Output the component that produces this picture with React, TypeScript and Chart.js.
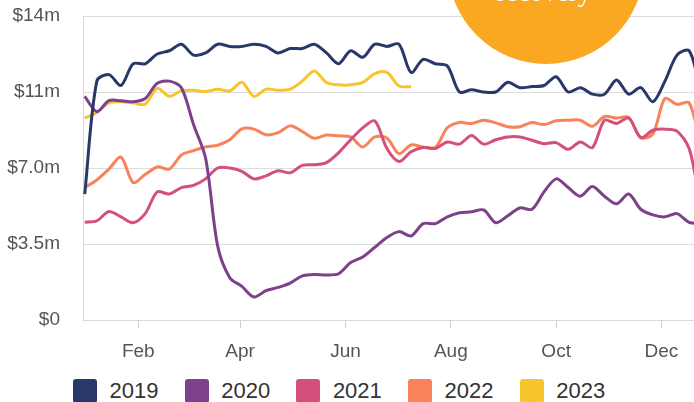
import React, { useEffect, useRef } from "react";
import { Chart, registerables } from "chart.js";

Chart.register(...registerables);

// ---- Data (weekly points, $ millions) ----
const SERIES_NAMES = ["2019", "2020", "2021", "2022", "2023"];
const SERIES_COLORS = ["#29386B", "#7C418A", "#D4507C", "#F9825A", "#F8C42C"];
const DAYS_PER_WEEK = 7;

const V2019 = [
  5.8, 11.0, 11.3, 10.8, 11.8, 11.8, 12.25, 12.4, 12.7, 12.2, 12.3, 12.7, 12.6, 12.6,
  12.7, 12.6, 12.3, 12.5, 12.5, 12.7, 12.3, 11.8, 12.4, 12.1, 12.7, 12.6, 12.7, 11.4,
  12.0, 11.8, 11.7, 10.5, 10.6, 10.5, 10.5, 10.95, 10.7, 10.75, 10.8, 11.2, 10.5, 10.7,
  10.4, 10.4, 11.05, 10.4, 10.7, 10.05, 11.0, 12.2, 12.4, 10.8, 10.6,
];
const V2020 = [
  10.3, 9.6, 10.1, 10.1, 10.05, 10.2, 10.9, 11.0, 10.7, 9.0, 7.45, 3.4, 1.95, 1.55,
  1.06, 1.35, 1.5, 1.7, 2.03, 2.1, 2.07, 2.13, 2.65, 2.9, 3.35, 3.8, 4.07, 3.87,
  4.44, 4.44, 4.75, 4.94, 4.98, 5.07, 4.48, 4.8, 5.16, 5.1, 5.9, 6.5, 6.1, 5.7,
  6.15, 5.7, 5.35, 5.8, 5.1, 4.84, 4.75, 4.9, 4.5, 4.45, 4.4,
];
const V2021 = [
  4.5, 4.56, 5.0, 4.75, 4.48, 4.9, 5.9, 5.8, 6.1, 6.2, 6.5, 7.0, 7.0, 6.85,
  6.5, 6.64, 6.87, 6.78, 7.12, 7.15, 7.25, 7.7, 8.3, 8.85, 9.17, 7.9, 7.3, 7.75,
  7.94, 7.9, 8.2, 8.1, 8.5, 8.1, 8.3, 8.43, 8.43, 8.28, 8.12, 8.17, 7.86, 8.2,
  7.94, 9.2, 9.05, 9.3, 8.4, 8.74, 8.79, 8.7, 7.9, 5.6, 5.3,
];
const V2022 = [
  6.1, 6.45, 6.95, 7.5, 6.33, 6.7, 7.05, 6.95, 7.6, 7.8, 7.97, 8.05, 8.3, 8.8,
  8.79, 8.53, 8.63, 8.94, 8.68, 8.37, 8.52, 8.48, 8.43, 7.97, 8.43, 8.38, 7.66, 8.06,
  7.97, 7.94, 8.85, 9.1, 9.05, 9.2, 9.08, 8.9, 8.9, 9.09, 9.0, 9.18, 9.2, 9.2,
  8.92, 9.37, 9.3, 9.33, 8.4, 8.57, 10.2, 9.93, 10.0, 8.3, 8.0,
];
const V2023 = [
  9.3, 9.55, 10.0, 10.05, 10.0, 9.94, 10.67, 10.3, 10.55, 10.58, 10.52, 10.63, 10.55, 10.95,
  10.3, 10.63, 10.58, 10.63, 11.0, 11.47, 10.94, 10.83, 10.83, 10.94, 11.35, 11.4, 10.78, 10.74,
];
const SERIES_VALUES = [V2019, V2020, V2021, V2022, V2023];

const MONTH_TICK_DAYS = [31, 90, 151, 212, 273, 334];
const MONTH_TICK_LABELS = ["Feb", "Apr", "Jun", "Aug", "Oct", "Dec"];
const Y_TICKS = [0, 3.5, 7, 10.5, 14];

const ANNOTATION_TEXT = "recovery";

const FONT = "'Liberation Sans', Arial, Helvetica, sans-serif";

function formatMoney(v: number): string {
  if (v === 0) return "$0";
  return "$" + Number(v).toPrecision(2) + "m";
}

export default function App() {
  const canvasRef = useRef<HTMLCanvasElement | null>(null);

  useEffect(() => {
    if (!canvasRef.current) return;
    const datasets = SERIES_VALUES.map((vals, i) => ({
      label: SERIES_NAMES[i],
      data: vals.map((v, w) => ({ x: w * DAYS_PER_WEEK, y: v })),
      borderColor: SERIES_COLORS[i],
      backgroundColor: SERIES_COLORS[i],
      borderWidth: 3,
      pointRadius: 0,
      tension: 0.3,
      fill: false,
    }));

    const chart = new Chart(canvasRef.current, {
      type: "line",
      data: { datasets },
      options: {
        animation: false,
        responsive: false,
        maintainAspectRatio: false,
        layout: { padding: { top: 16, right: 15, bottom: 0, left: 0 } },
        plugins: {
          legend: { display: false },
          tooltip: { enabled: false },
        },
        scales: {
          x: {
            type: "linear",
            min: -1,
            max: 365,
            afterFit: (scale: any) => {
              scale.height = 50;
            },
            afterBuildTicks: (scale: any) => {
              scale.ticks = MONTH_TICK_DAYS.map((d) => ({ value: d }));
            },
            grid: {
              drawOnChartArea: false,
              drawTicks: true,
              tickLength: 8,
              color: "#d2d2d2",
              lineWidth: 1,
            },
            border: { display: true, color: "#d9d9d9", width: 1 },
            ticks: {
              autoSkip: false,
              maxRotation: 0,
              padding: 12,
              color: "#555555",
              font: { family: FONT, size: 19 },
              callback: (v: any) => {
                const idx = MONTH_TICK_DAYS.indexOf(Number(v));
                return idx >= 0 ? MONTH_TICK_LABELS[idx] : "";
              },
            },
          },
          y: {
            type: "linear",
            min: 0,
            max: 14,
            afterFit: (scale: any) => {
              scale.width = 83;
              scale.paddingTop = 11;
              scale.paddingBottom = 11;
            },
            afterBuildTicks: (scale: any) => {
              scale.ticks = Y_TICKS.map((v) => ({ value: v }));
            },
            grid: {
              drawTicks: false,
              color: "#dcdcdc",
              lineWidth: 1,
            },
            border: { display: true, color: "#d9d9d9", width: 1 },
            ticks: {
              padding: 23,
              color: "#555555",
              font: { family: FONT, size: 19 },
              callback: (v: any) => formatMoney(Number(v)),
            },
          },
        },
      },
    });
    return () => chart.destroy();
  }, []);

  return (
    <div
      style={{
        position: "fixed",
        left: 0,
        top: 0,
        width: 694,
        height: 402,
        overflow: "hidden",
        background: "#ffffff",
      }}
    >
      <div style={{ position: "absolute", left: 0, top: 0, width: 730, height: 370 }}>
        <canvas ref={canvasRef} width={730} height={370} />
      </div>
      <div
        style={{
          position: "absolute",
          left: 448,
          top: -132.5,
          width: 196,
          height: 196,
          borderRadius: "50%",
          background: "#FAA722",
        }}
      />
      <div
        style={{
          position: "absolute",
          left: 444,
          width: 200,
          top: -20.6,
          textAlign: "center",
          fontFamily: "'Liberation Serif', 'DejaVu Serif', serif",
          fontSize: 27,
          lineHeight: "27px",
          color: "#ffffff",
        }}
      >
        {ANNOTATION_TEXT}
      </div>
      <div
        style={{
          position: "absolute",
          left: 73,
          top: 379,
          display: "flex",
          alignItems: "center",
          fontFamily: FONT,
          fontSize: 22,
          color: "#333333",
        }}
      >
        {SERIES_NAMES.map((name, i) => (
          <div
            key={name}
            style={{ display: "flex", alignItems: "center", width: 111.7, height: 24 }}
          >
            <div
              style={{
                width: 24,
                height: 24,
                borderRadius: 3,
                background: SERIES_COLORS[i],
                marginRight: 12.5,
                flex: "0 0 auto",
              }}
            />
            <span style={{ lineHeight: "24px" }}>{name}</span>
          </div>
        ))}
      </div>
    </div>
  );
}
